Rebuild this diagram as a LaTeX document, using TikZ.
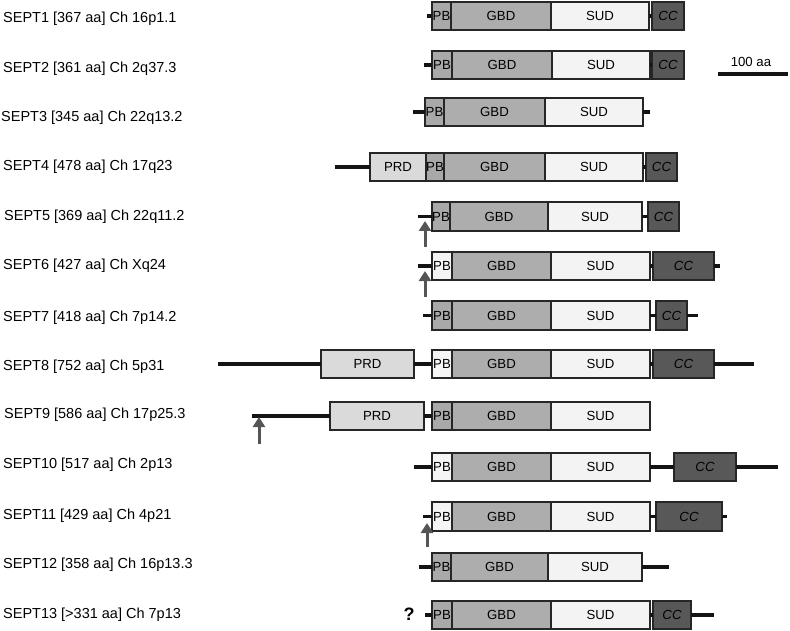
\documentclass[tikz,border=0pt]{standalone}
\usepackage{fontspec}
\setmainfont{Liberation Sans}
\usetikzlibrary{arrows.meta}
\definecolor{pbgray}{HTML}{A9A9A9}
\definecolor{pbwhite}{HTML}{F5F5F5}
\definecolor{gbdc}{HTML}{ADADAD}
\definecolor{sudc}{HTML}{F3F3F3}
\definecolor{ccc}{HTML}{585858}
\definecolor{prdc}{HTML}{DADADA}
\definecolor{arrc}{HTML}{555555}
\newcommand\dombox[6]{%
  \pgfmathsetmacro\domw{#4-#3}%
  \node[dom, fill=#2, minimum width=\domw pt] (#1) at (#3,#5) {#6};}
\begin{document}
\begin{tikzpicture}[x=1pt,y=-1pt,
  font=\fontsize{13.2}{15}\selectfont,
  dom/.style={draw=black!85, line width=1.7pt, minimum height=28.5pt,
    inner sep=0pt, outer sep=0pt, anchor=west},
  link/.style={line width=3.2pt, black!92},
  uparrow/.style={line width=3pt, arrc, -{Triangle[width=12pt,length=10pt]}},
  lbl/.style={anchor=west, inner sep=0pt, font=\fontsize{14.5}{16}\selectfont}]
\useasboundingbox (0,0) rectangle (790,631);

% labels
\node[lbl] (l1) at (3,19) {SEPT1 [367 aa] Ch 16p1.1};
\node[lbl] (l2) at (3,69) {SEPT2 [361 aa] Ch 2q37.3};
\node[lbl] (l3) at (1,118) {SEPT3 [345 aa] Ch 22q13.2};
\node[lbl] (l4) at (3,167) {SEPT4 [478 aa] Ch 17q23};
\node[lbl] (l5) at (4,217) {SEPT5 [369 aa] Ch 22q11.2};
\node[lbl] (l6) at (3,266) {SEPT6 [427 aa] Ch Xq24};
\node[lbl] (l7) at (3,318) {SEPT7 [418 aa] Ch 7p14.2};
\node[lbl] (l8) at (3,367) {SEPT8 [752 aa] Ch 5p31};
\node[lbl] (l9) at (4,415) {SEPT9 [586 aa] Ch 17p25.3};
\node[lbl] (l10) at (3,465) {SEPT10 [517 aa] Ch 2p13};
\node[lbl] (l11) at (3,516) {SEPT11 [429 aa] Ch 4p21};
\node[lbl] (l12) at (3,565) {SEPT12 [358 aa] Ch 16p13.3};
\node[lbl] (l13) at (3,615) {SEPT13 [>331 aa] Ch 7p13};

% scale bar
\coordinate (sb1) at (718,74);
\coordinate (sb2) at (788,74);
\draw[link] (sb1) -- (sb2);
\node (sbl) at (751,62) {100 aa};

% row 1
\coordinate (s1) at (427,16);
\dombox{p1}{pbgray}{432}{451}{16}{PB}
\dombox{g1}{gbdc}{451}{551}{16}{GBD}
\dombox{u1}{sudc}{551}{649}{16}{SUD}
\dombox{c1}{ccc}{652}{684}{16}{\itshape CC}
\draw[link] (s1) -- (p1.west);
\draw[link] (u1.east) -- (c1.west);

% row 2
\coordinate (s2) at (424,65);
\dombox{p2}{pbgray}{432}{452}{65}{PB}
\dombox{g2}{gbdc}{452}{552}{65}{GBD}
\dombox{u2}{sudc}{552}{650}{65}{SUD}
\dombox{c2}{ccc}{652}{684}{65}{\itshape CC}
\draw[link] (s2) -- (p2.west);
\draw[link] (u2.east) -- (c2.west);

% row 3
\coordinate (s3) at (413,112);
\coordinate (e3) at (650,112);
\dombox{p3}{pbgray}{425}{444}{112}{PB}
\dombox{g3}{gbdc}{444}{545}{112}{GBD}
\dombox{u3}{sudc}{545}{643}{112}{SUD}
\draw[link] (s3) -- (p3.west);
\draw[link] (u3.east) -- (e3);

% row 4
\coordinate (s4) at (335,167);
\dombox{r4}{prdc}{370}{426}{167}{PRD}
\dombox{p4}{pbgray}{426}{444}{167}{PB}
\dombox{g4}{gbdc}{444}{545}{167}{GBD}
\dombox{u4}{sudc}{545}{643}{167}{SUD}
\dombox{c4}{ccc}{646}{677}{167}{\itshape CC}
\draw[link] (s4) -- (r4.west);
\draw[link] (u4.east) -- (c4.west);

% row 5
\coordinate (s5) at (418,216.5);
\dombox{p5}{pbgray}{432}{450}{216.5}{PB}
\dombox{g5}{gbdc}{450}{548}{216.5}{GBD}
\dombox{u5}{sudc}{548}{642}{216.5}{SUD}
\dombox{c5}{ccc}{648}{679}{216.5}{\itshape CC}
\draw[link] (s5) -- (p5.west);
\draw[link] (u5.east) -- (c5.west);
\coordinate (a5b) at (425,247);
\coordinate (a5t) at (425,221);
\draw[uparrow] (a5b) -- (a5t);

% row 6
\coordinate (s6) at (418,266);
\coordinate (e6) at (720,266);
\dombox{p6}{pbwhite}{432}{452}{266}{PB}
\dombox{g6}{gbdc}{452}{551}{266}{GBD}
\dombox{u6}{sudc}{551}{650}{266}{SUD}
\dombox{c6}{ccc}{653}{714}{266}{\itshape CC}
\draw[link] (s6) -- (p6.west);
\draw[link] (u6.east) -- (c6.west);
\draw[link] (c6.east) -- (e6);
\coordinate (a6b) at (425,297);
\coordinate (a6t) at (425,271);
\draw[uparrow] (a6b) -- (a6t);

% row 7
\coordinate (s7) at (423,315.5);
\coordinate (e7) at (698,315.5);
\dombox{p7}{pbgray}{432}{452}{315.5}{PB}
\dombox{g7}{gbdc}{452}{551}{315.5}{GBD}
\dombox{u7}{sudc}{551}{650}{315.5}{SUD}
\dombox{c7}{ccc}{656}{687}{315.5}{\itshape CC}
\draw[link] (s7) -- (p7.west);
\draw[link] (u7.east) -- (c7.west);
\draw[link] (c7.east) -- (e7);

% row 8
\coordinate (s8) at (218,364);
\coordinate (e8) at (754,364);
\dombox{r8}{prdc}{321}{414}{364}{PRD}
\dombox{p8}{pbwhite}{432}{452}{364}{PB}
\dombox{g8}{gbdc}{452}{551}{364}{GBD}
\dombox{u8}{sudc}{551}{650}{364}{SUD}
\dombox{c8}{ccc}{653}{714}{364}{\itshape CC}
\draw[link] (s8) -- (r8.west);
\draw[link] (r8.east) -- (p8.west);
\draw[link] (u8.east) -- (c8.west);
\draw[link] (c8.east) -- (e8);

% row 9
\coordinate (s9) at (252,416);
\dombox{r9}{prdc}{330}{424}{416}{PRD}
\dombox{p9}{pbgray}{432}{452}{416}{PB}
\dombox{g9}{gbdc}{452}{551}{416}{GBD}
\dombox{u9}{sudc}{551}{650}{416}{SUD}
\draw[link] (s9) -- (r9.west);
\draw[link] (r9.east) -- (p9.west);
\coordinate (a9b) at (259,444);
\coordinate (a9t) at (259,417);
\draw[uparrow] (a9b) -- (a9t);

% row 10
\coordinate (s10) at (414,467);
\coordinate (e10) at (778,467);
\dombox{p10}{pbwhite}{432}{452}{467}{PB}
\dombox{g10}{gbdc}{452}{551}{467}{GBD}
\dombox{u10}{sudc}{551}{650}{467}{SUD}
\dombox{c10}{ccc}{674}{736}{467}{\itshape CC}
\draw[link] (s10) -- (p10.west);
\draw[link] (u10.east) -- (c10.west);
\draw[link] (c10.east) -- (e10);

% row 11
\coordinate (s11) at (423,516.5);
\coordinate (e11) at (727,516.5);
\dombox{p11}{pbwhite}{432}{452}{516.5}{PB}
\dombox{g11}{gbdc}{452}{551}{516.5}{GBD}
\dombox{u11}{sudc}{551}{650}{516.5}{SUD}
\dombox{c11}{ccc}{656}{722}{516.5}{\itshape CC}
\draw[link] (s11) -- (p11.west);
\draw[link] (u11.east) -- (c11.west);
\draw[link] (c11.east) -- (e11);
\coordinate (a11b) at (427,547);
\coordinate (a11t) at (427,523);
\draw[uparrow] (a11b) -- (a11t);

% row 12
\coordinate (s12) at (419,567);
\coordinate (e12) at (669,567);
\dombox{p12}{pbgray}{432}{451}{567}{PB}
\dombox{g12}{gbdc}{451}{548}{567}{GBD}
\dombox{u12}{sudc}{548}{642}{567}{SUD}
\draw[link] (s12) -- (p12.west);
\draw[link] (u12.east) -- (e12);

% row 13
\node[font=\fontsize{18}{20}\selectfont\bfseries] (q13) at (409,614) {?};
\coordinate (s13) at (425,615);
\coordinate (e13) at (714,615);
\dombox{p13}{pbgray}{432}{452}{615}{PB}
\dombox{g13}{gbdc}{452}{551}{615}{GBD}
\dombox{u13}{sudc}{551}{650}{615}{SUD}
\dombox{c13}{ccc}{653}{691}{615}{\itshape CC}
\draw[link] (s13) -- (p13.west);
\draw[link] (u13.east) -- (c13.west);
\draw[link] (c13.east) -- (e13);
\end{tikzpicture}
\end{document}
